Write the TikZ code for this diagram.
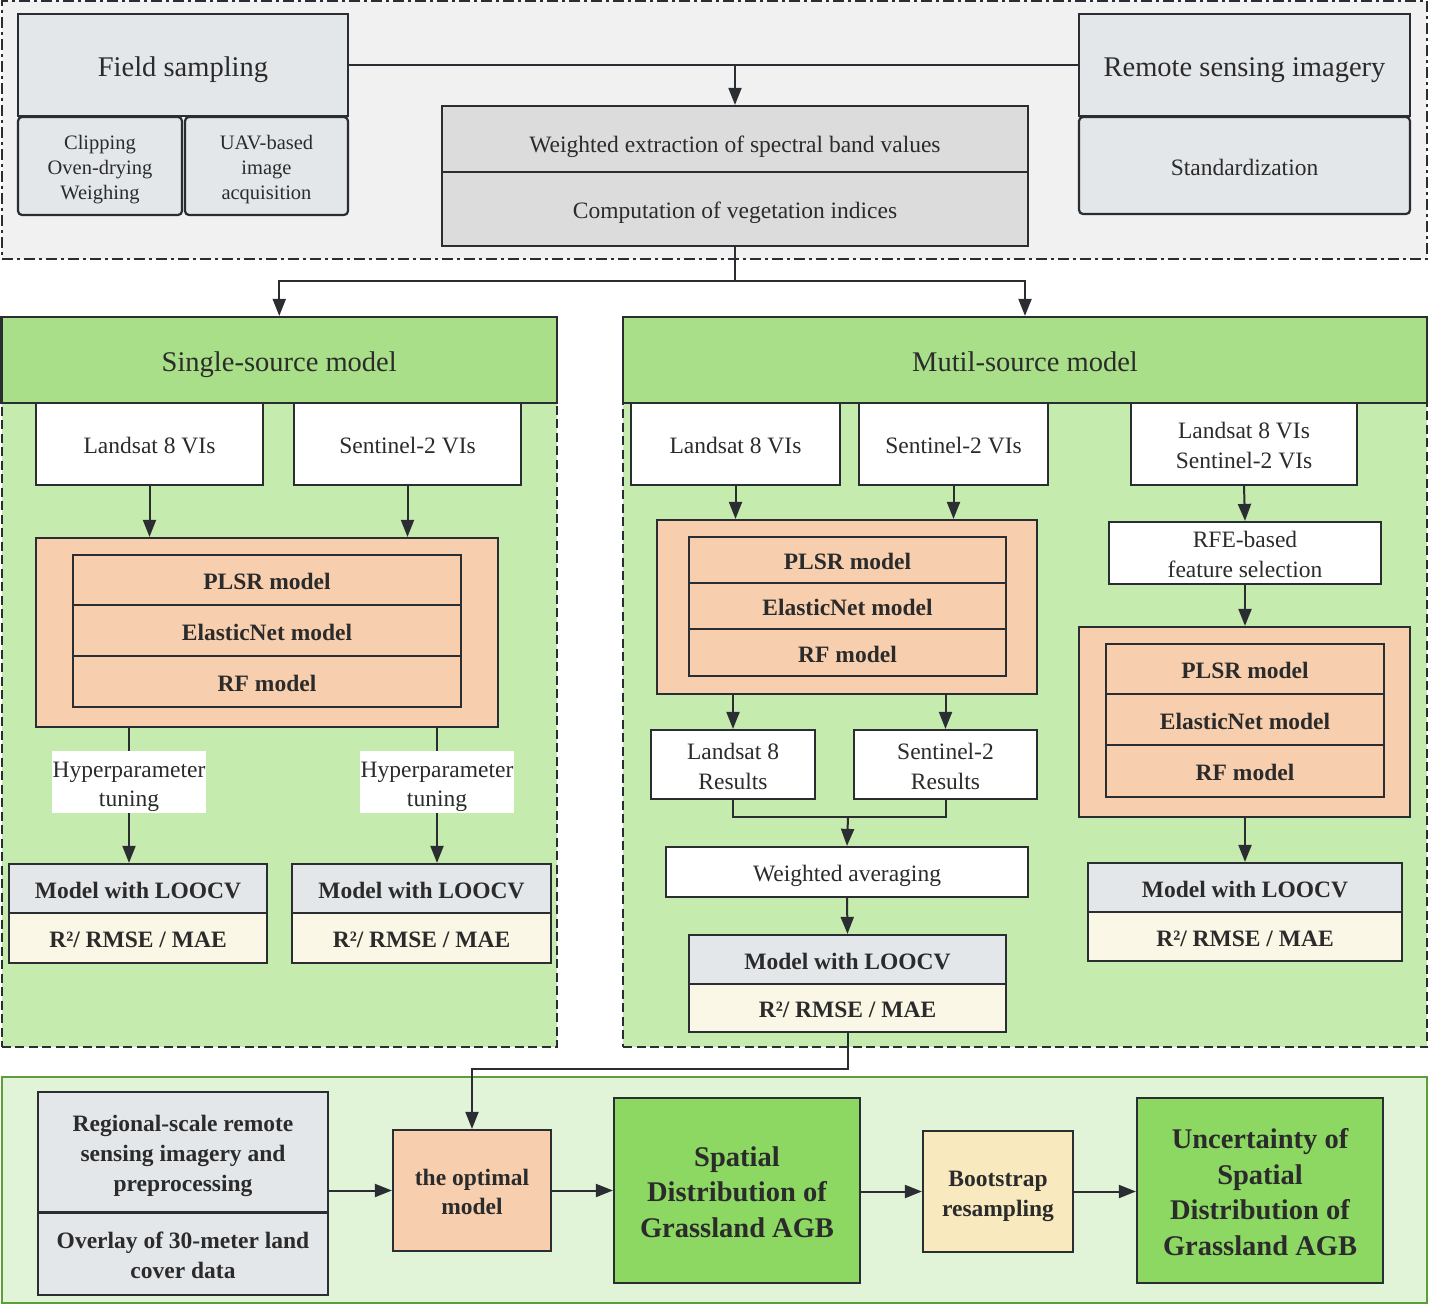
\documentclass[tikz,border=0pt]{standalone}
\usepackage{fontspec}
\setmainfont{Liberation Serif}
\usetikzlibrary{arrows.meta}
\definecolor{dk}{HTML}{2A2D31}
\definecolor{txt}{HTML}{2B2B2B}
\definecolor{topbg}{HTML}{F1F1F1}
\definecolor{gb}{HTML}{E4E7EA}
\definecolor{cg}{HTML}{DCDCDC}
\definecolor{hg}{HTML}{A9DF88}
\definecolor{pg}{HTML}{C6EBAE}
\definecolor{org}{HTML}{F7CFAE}
\definecolor{crm}{HTML}{FBF7E7}
\definecolor{botbg}{HTML}{E2F4D8}
\definecolor{botln}{HTML}{5E9E3A}
\definecolor{bg}{HTML}{8DD763}
\definecolor{boot}{HTML}{F8E9BE}
\begin{document}
\begin{tikzpicture}[x=1pt,y=-1pt,
  rr/.style n args={4}{anchor=center, at={({(#1+#3)/2},{(#2+#4)/2})}, minimum width={(#3)-(#1)}, minimum height={(#4)-(#2)}},
  bx/.style={draw=dk, line width=2.2pt, inner sep=0pt, align=center, text=txt},
  lab/.style={inner sep=0pt, align=center, text=txt},
  ln/.style={draw=dk, line width=2pt},
  arr/.style={draw=dk, line width=2pt, -{Triangle[length=17pt,width=13pt]}},
  fL/.style={font=\fontsize{28.5}{35}\selectfont, text height=25pt, text depth=2.1pt},
  fN/.style={font=\fontsize{23.5}{30}\selectfont, text height=21pt, text depth=1.4pt},
  fS/.style={font=\fontsize{20.5}{25}\selectfont, text height=18pt, text depth=0.4pt},
  fNB/.style={font=\fontsize{23.5}{30}\selectfont\bfseries, text height=21pt, text depth=1.4pt},
  fLB/.style={font=\fontsize{28.5}{35.5}\selectfont\bfseries, text height=25pt, text depth=2.1pt},
  dpanel/.style={draw=dk, line width=2pt, inner sep=0pt, dash pattern=on 9pt off 4.5pt}]
\useasboundingbox (0,0) rectangle (1429,1305);
% ---------- top panel ----------
\node[draw=dk, line width=2pt, inner sep=0pt, dash pattern=on 11pt off 4pt on 3pt off 4pt, fill=topbg, rr={1.5}{1.5}{1427}{259}] (top) {};
\node[bx, fill=gb, fL, rr={18}{14}{348}{116}] (fs) {Field sampling};
\node[bx, fill=gb, fS, text height=68pt, rounded corners=4pt, rr={18}{117}{182}{215}] (clip) {Clipping\\Oven-drying\\Weighing};
\node[bx, fill=gb, fS, text height=68pt, rounded corners=4pt, rr={185}{117}{348}{215}] (uav) {UAV-based\\image\\acquisition};
\node[bx, fill=gb, fL, rr={1079}{14}{1410}{116}] (rs) {Remote sensing imagery};
\node[bx, fill=gb, fN, rounded corners=4pt, rr={1079}{117}{1410}{214}] (std) {Standardization};
\node[bx, fill=cg, fN, text height=29pt, rr={442}{106}{1028}{172}] (we) {Weighted extraction of spectral band values};
\node[bx, fill=cg, fN, rr={442}{172}{1028}{246}] (cv) {Computation of vegetation indices};
\draw[ln] (fs.east) -- (rs.west);
\draw[arr] (fs.east -| we.north) -- (we.north);
\coordinate (split) at (735,281);
\draw[ln] (cv.south) -- (split);
% ---------- single-source ----------
\node[dpanel, fill=pg, rr={1.5}{317}{557}{1047}] (spnl) {};
\node[bx, fill=hg, fL, rr={1.5}{317}{557}{403}] (sh) {Single-source model};
\node[bx, fill=white, fN, rr={36}{403}{263}{485}] (sl8) {Landsat 8 VIs};
\node[bx, fill=white, fN, rr={294}{403}{521}{485}] (ss2) {Sentinel-2 VIs};
\node[bx, fill=org, rr={36}{538}{498}{727}] (sor) {};
\node[bx, fill=org, fNB, rr={73}{555}{461}{605}] (spl) {PLSR model};
\node[bx, fill=org, fNB, rr={73}{605}{461}{656}] (sel) {ElasticNet model};
\node[bx, fill=org, fNB, rr={73}{656}{461}{707}] (srf) {RF model};
\draw[arr] (sl8.south) -- (sl8.south |- sor.north);
\draw[arr] (ss2.south) -- (ss2.south |- sor.north);
\node[bx, fill=gb, fNB, rr={9}{864}{267}{913}] (sm1) {Model with LOOCV};
\node[bx, fill=crm, fNB, rr={9}{913}{267}{963}] (sr1) {R²/ RMSE / MAE};
\node[bx, fill=gb, fNB, rr={292}{864}{551}{913}] (sm2) {Model with LOOCV};
\node[bx, fill=crm, fNB, rr={292}{913}{551}{963}] (sr2) {R²/ RMSE / MAE};
\coordinate (h1) at (129,782);
\coordinate (h2) at (437,782);
\draw[arr] (h1 |- sor.south) -- (h1 |- sm1.north);
\draw[arr] (h2 |- sor.south) -- (h2 |- sm2.north);
\node[lab, fill=white, fN, font=\fontsize{23.5}{29}\selectfont, text height=50pt, rr={52}{751}{206}{813}] (hp1) {Hyperparameter\\tuning};
\node[lab, fill=white, fN, font=\fontsize{23.5}{29}\selectfont, text height=50pt, rr={360}{751}{514}{813}] (hp2) {Hyperparameter\\tuning};
% ---------- multi-source ----------
\node[dpanel, fill=pg, rr={623}{317}{1427}{1047}] (mpnl) {};
\node[bx, fill=hg, fL, rr={623}{317}{1427}{403}] (mh) {Mutil-source model};
\draw[arr] (split) -| (sh.north);
\draw[arr] (split) -| (mh.north);
\node[bx, fill=white, fN, rr={631}{403}{840}{485}] (ml8) {Landsat 8 VIs};
\node[bx, fill=white, fN, rr={859}{403}{1048}{485}] (ms2) {Sentinel-2 VIs};
\node[bx, fill=white, fN, text height=51pt, rr={1131}{403}{1357}{485}] (mls) {Landsat 8 VIs\\Sentinel-2 VIs};
\node[bx, fill=org, rr={657}{520}{1037}{694}] (mor) {};
\node[bx, fill=org, fNB, rr={689}{537}{1006}{583}] (mpl) {PLSR model};
\node[bx, fill=org, fNB, rr={689}{583}{1006}{629}] (mel) {ElasticNet model};
\node[bx, fill=org, fNB, rr={689}{629}{1006}{676}] (mrf) {RF model};
\draw[arr] (ml8.south) -- (ml8.south |- mor.north);
\draw[arr] (ms2.south) -- (ms2.south |- mor.north);
\node[bx, fill=white, fN, text height=51pt, rr={651}{730}{815}{799}] (l8r) {Landsat 8\\Results};
\node[bx, fill=white, fN, text height=51pt, rr={854}{730}{1037}{799}] (s2r) {Sentinel-2\\Results};
\draw[arr] (l8r.north |- mor.south) -- (l8r.north);
\draw[arr] (s2r.north |- mor.south) -- (s2r.north);
\node[bx, fill=white, fN, rr={666}{847}{1028}{897}] (wav) {Weighted averaging};
\coordinate (mg) at (848,817);
\draw[ln] (l8r.south) |- (mg) -| (s2r.south);
\draw[arr] (mg) -- (wav.north);
\node[bx, fill=gb, fNB, rr={689}{935}{1006}{984}] (mm) {Model with LOOCV};
\node[bx, fill=crm, fNB, rr={689}{984}{1006}{1032}] (mr) {R²/ RMSE / MAE};
\draw[arr] (wav.south) -- (mm.north);
\node[bx, fill=white, fN, text height=51pt, rr={1109}{522}{1381}{584}] (rfe) {RFE-based\\feature selection};
\draw[arr] (mls.south) -- (rfe.north);
\node[bx, fill=org, rr={1079}{627}{1410}{817}] (ror) {};
\node[bx, fill=org, fNB, rr={1106}{644}{1384}{694}] (rpl) {PLSR model};
\node[bx, fill=org, fNB, rr={1106}{694}{1384}{745}] (rel) {ElasticNet model};
\node[bx, fill=org, fNB, rr={1106}{745}{1384}{797}] (rrf) {RF model};
\draw[arr] (rfe.south) -- (rfe.south |- ror.north);
\node[bx, fill=gb, fNB, rr={1088}{863}{1402}{912}] (rm) {Model with LOOCV};
\node[bx, fill=crm, fNB, rr={1088}{912}{1402}{961}] (rr) {R²/ RMSE / MAE};
\draw[arr] (rfe.south |- ror.south) -- (rfe.south |- rm.north);
% ---------- bottom panel ----------
\node[draw=botln, line width=2pt, inner sep=0pt, fill=botbg, rr={1.5}{1077}{1427}{1303}] (bot) {};
\node[bx, fill=gb, fNB, text height=81pt, rr={38}{1092}{328}{1212}] (reg) {Regional-scale remote\\sensing imagery and\\preprocessing};
\node[bx, fill=gb, fNB, text height=51pt, rr={38}{1213}{328}{1295}] (ovl) {Overlay of 30-meter land\\cover data};
\node[bx, fill=org, fNB, font=\fontsize{23.5}{29}\selectfont\bfseries, text height=50pt, rr={393}{1130}{551}{1251}] (opt) {the optimal\\model};
\node[bx, fill=bg, fLB, text height=96pt, rr={614}{1098}{860}{1283}] (sd) {Spatial\\Distribution of\\Grassland AGB};
\node[bx, fill=boot, fNB, text height=51pt, rr={923}{1131}{1073}{1252}] (bs) {Bootstrap\\resampling};
\node[bx, fill=bg, fLB, text height=131.5pt, rr={1137}{1098}{1383}{1283}] (unc) {Uncertainty of\\Spatial\\Distribution of\\Grassland AGB};
\draw[arr] (mr.south) -- ++(0,36) -| (opt.north);
\draw[arr] (opt.west -| reg.east) -- (opt.west);
\draw[arr] (opt.east) -- (opt.east -| sd.west);
\draw[arr] (sd.east |- bs.west) -- (bs.west);
\draw[arr] (bs.east) -- (bs.east -| unc.west);
\end{tikzpicture}
\end{document}
